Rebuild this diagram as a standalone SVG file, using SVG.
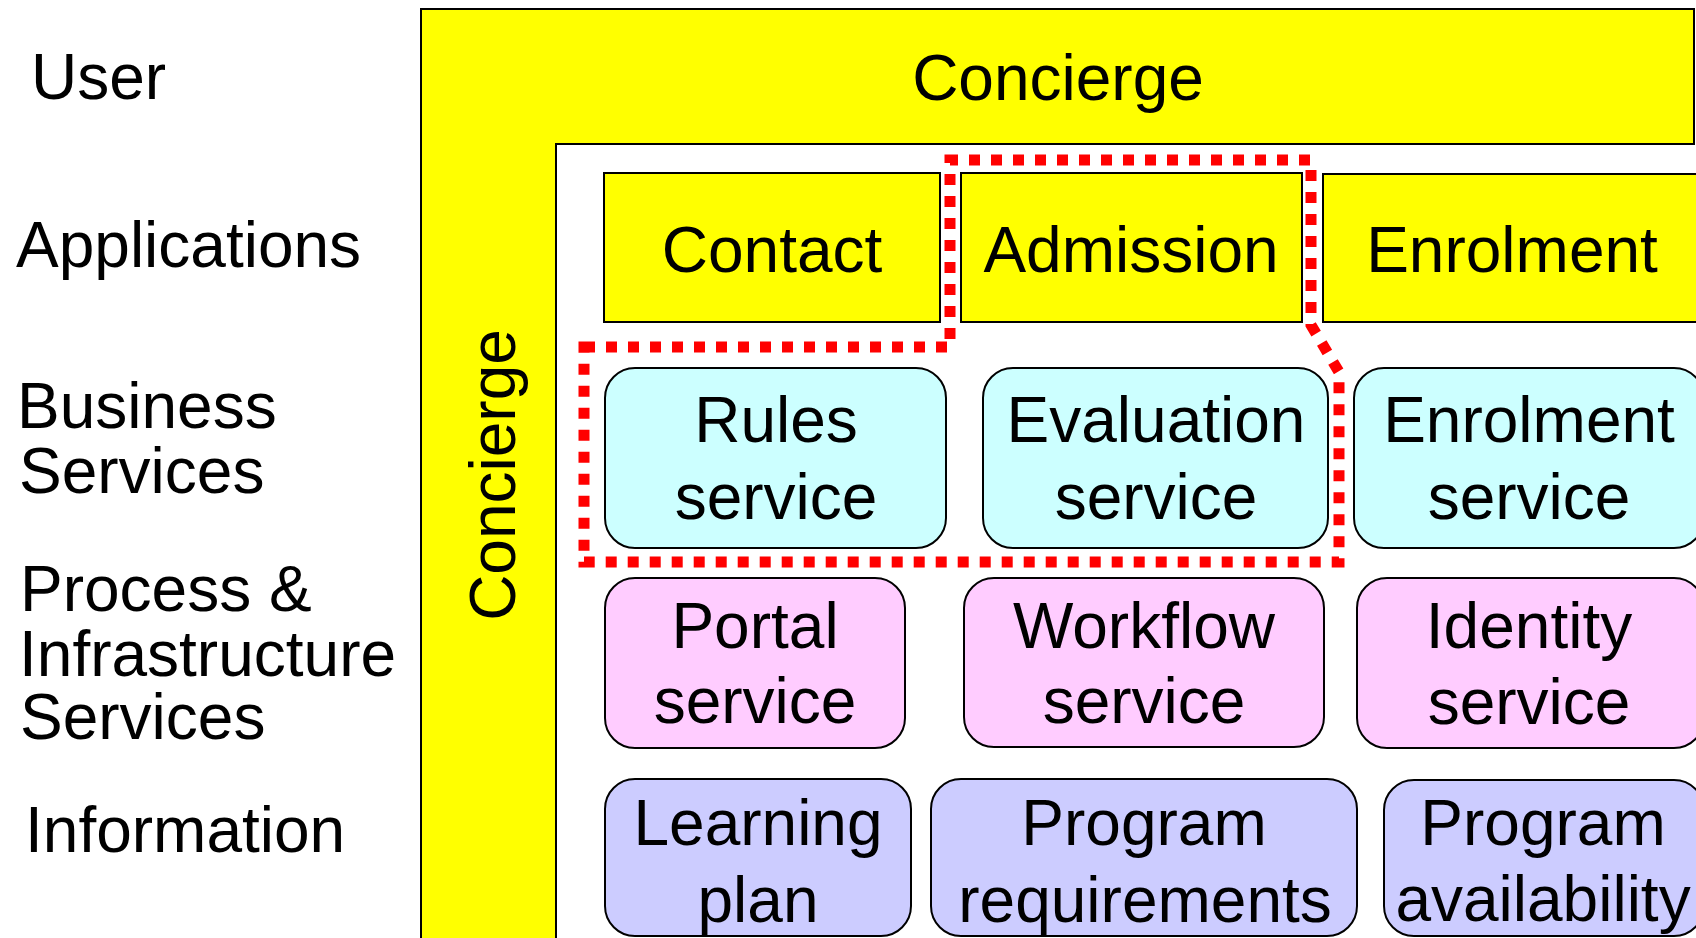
<svg xmlns="http://www.w3.org/2000/svg" width="1696" height="938" viewBox="0 0 1696 938">
  <style>
    text { font-family: "Liberation Sans", Arial, sans-serif; font-size: 64px; fill: #000; }
    .c { text-anchor: middle; }
    .app { fill: #FFFF00; stroke: #000; stroke-width: 2; }
    .biz { fill: #CCFFFF; stroke: #000; stroke-width: 2; }
    .proc { fill: #FFCCFF; stroke: #000; stroke-width: 2; }
    .info { fill: #CCCCFF; stroke: #000; stroke-width: 2; }
    .scope { fill: none; stroke: #FF0000; stroke-width: 11; stroke-dasharray: 11 11; }
  </style>

  <!-- layer labels -->
  <g id="layer-labels">
    <text x="31" y="99">User</text>
    <text x="16" y="267">Applications</text>
    <text x="17" y="428">Business</text>
    <text x="19" y="493">Services</text>
    <text x="20" y="611">Process &amp;</text>
    <text x="19" y="676">Infrastructure</text>
    <text x="20" y="739">Services</text>
    <text x="25" y="852">Information</text>
  </g>

  <!-- concierge frame: top band plus left band -->
  <g id="concierge">
    <path class="app" d="M421,9 H1694 V144 H556 V945 H421 Z"/>
    <text class="c" x="1058" y="100">Concierge</text>
    <text class="c" x="0" y="0" font-size="66" transform="translate(515,475) rotate(-90)">Concierge</text>
  </g>

  <!-- applications -->
  <g id="contact">
    <rect class="app" x="604" y="173" width="336" height="149"/>
    <text class="c" x="772" y="272">Contact</text>
  </g>
  <g id="admission">
    <rect class="app" x="961" y="173" width="341" height="149"/>
    <text class="c" x="1131" y="272">Admission</text>
  </g>
  <g id="enrolment">
    <rect class="app" x="1323" y="174" width="380" height="148"/>
    <text class="c" x="1512" y="272">Enrolment</text>
  </g>

  <!-- business services -->
  <g id="rules-service">
    <rect class="biz" x="605" y="368" width="341" height="180" rx="30"/>
    <text class="c" x="776" y="442">Rules</text>
    <text class="c" x="776" y="519">service</text>
  </g>
  <g id="evaluation-service">
    <rect class="biz" x="983" y="368" width="345" height="180" rx="30"/>
    <text class="c" x="1156" y="442">Evaluation</text>
    <text class="c" x="1156" y="519">service</text>
  </g>
  <g id="enrolment-service">
    <rect class="biz" x="1354" y="368" width="350" height="180" rx="30"/>
    <text class="c" x="1529" y="442">Enrolment</text>
    <text class="c" x="1529" y="519">service</text>
  </g>

  <!-- process and infrastructure services -->
  <g id="portal-service">
    <rect class="proc" x="605" y="578" width="300" height="170" rx="30"/>
    <text class="c" x="755" y="648">Portal</text>
    <text class="c" x="755" y="723">service</text>
  </g>
  <g id="workflow-service">
    <rect class="proc" x="964" y="578" width="360" height="169" rx="30"/>
    <text class="c" x="1144" y="648">Workflow</text>
    <text class="c" x="1144" y="723">service</text>
  </g>
  <g id="identity-service">
    <rect class="proc" x="1357" y="578" width="347" height="170" rx="30"/>
    <text class="c" x="1529" y="648">Identity</text>
    <text class="c" x="1529" y="724">service</text>
  </g>

  <!-- information -->
  <g id="learning-plan">
    <rect class="info" x="605" y="779" width="306" height="157" rx="30"/>
    <text class="c" x="758" y="845">Learning</text>
    <text class="c" x="758" y="922">plan</text>
  </g>
  <g id="program-requirements">
    <rect class="info" x="931" y="779" width="426" height="157" rx="30"/>
    <text class="c" x="1144" y="845">Program</text>
    <text class="c" x="1145" y="922">requirements</text>
  </g>
  <g id="program-availability">
    <rect class="info" x="1384" y="780" width="320" height="156" rx="30"/>
    <text class="c" x="1543" y="845">Program</text>
    <text class="c" x="1543" y="921">availability</text>
  </g>

  <!-- dotted scope boundary around admission and its services -->
  <g id="connectors">
    <path class="scope" d="M584,347 H950 V160 H1311 V325 L1339,372 V562 H584 Z"/>
  </g>
</svg>
